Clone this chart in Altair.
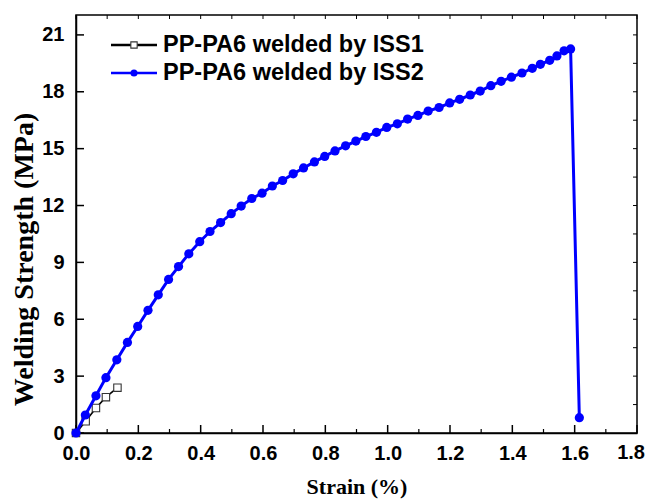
import altair as alt
import pandas as pd

# ---- data ----
series_names = ["PP-PA6 welded by ISS1", "PP-PA6 welded by ISS2"]

strain_iss1 = [0.0, 0.031, 0.064, 0.096, 0.133]
strength_iss1 = [0.0, 0.62, 1.32, 1.89, 2.39]

strain_iss2 = [0.0, 0.030, 0.064, 0.096, 0.131, 0.165, 0.198, 0.231, 0.264, 0.297,
               0.329, 0.362, 0.397, 0.430, 0.464, 0.498, 0.530, 0.564, 0.597, 0.630,
               0.663, 0.697, 0.730, 0.765, 0.798, 0.831, 0.865, 0.898, 0.930, 0.964,
               0.997, 1.031, 1.064, 1.097, 1.130, 1.165, 1.199, 1.231, 1.265, 1.297,
               1.331, 1.364, 1.397, 1.431, 1.464, 1.490, 1.520, 1.543, 1.566, 1.587,
               1.615]
strength_iss2 = [0.0, 0.95, 1.96, 2.92, 3.86, 4.78, 5.62, 6.47, 7.29, 8.10,
                 8.78, 9.45, 10.09, 10.63, 11.10, 11.57, 11.97, 12.37, 12.65, 13.03,
                 13.32, 13.67, 13.98, 14.30, 14.59, 14.88, 15.15, 15.40, 15.64, 15.86,
                 16.12, 16.31, 16.56, 16.75, 16.98, 17.17, 17.41, 17.60, 17.83, 18.04,
                 18.32, 18.55, 18.77, 18.99, 19.24, 19.45, 19.66, 19.89, 20.16, 20.26,
                 0.81]

x_major_ticks = [0.0, 0.2, 0.4, 0.6, 0.8, 1.0, 1.2, 1.4, 1.6, 1.8]
x_minor_ticks = [0.1, 0.3, 0.5, 0.7, 0.9, 1.1, 1.3, 1.5, 1.7]
y_major_ticks = [0, 3, 6, 9, 12, 15, 18, 21]
y_right_ticks = [1.5, 3, 4.5, 6, 7.5, 9, 10.5, 12, 13.5, 15, 16.5, 18, 19.5, 21]

W, H = 561, 418
BLUE = "#0000FF"

df1 = pd.DataFrame({"strain": strain_iss1, "strength": strength_iss1,
                    "order": list(range(len(strain_iss1)))})
df2 = pd.DataFrame({"strain": strain_iss2, "strength": strength_iss2,
                    "order": list(range(len(strain_iss2)))})

xs = alt.Scale(domain=[0, 1.8], nice=False, zero=False)
ys = alt.Scale(domain=[0, 22.05], nice=False, zero=False)

LABEL_FONT = dict(font="Liberation Sans", fontWeight="bold", fontSize=20, color="black")

xaxis = alt.Axis(values=x_major_ticks[:-1], format=".1f", ticks=False, grid=False,
                 domainColor="black", domainWidth=1.5, labelFont="Liberation Sans",
                 labelFontWeight="bold", labelFontSize=20, labelColor="black",
                 labelPadding=10, labelFlush=False, title="Strain (%)",
                 titleFont="Liberation Serif", titleFontWeight="bold", titleFontSize=22,
                 titleColor="black", titlePadding=13)
yaxis = alt.Axis(values=y_major_ticks, format="d", ticks=False, grid=False,
                 domainColor="black", domainWidth=1.5, labelFont="Liberation Sans",
                 labelFontWeight="bold", labelFontSize=20, labelColor="black",
                 labelPadding=12, labelFlush=False, title="Welding Strength (MPa)",
                 titleFont="Liberation Serif", titleFontWeight="bold", titleFontSize=28,
                 titleColor="black", titlePadding=3, titleY=244)

X = lambda f: alt.X(f, type="quantitative", scale=xs, axis=xaxis)
Y = lambda f: alt.Y(f, type="quantitative", scale=ys, axis=yaxis)

line1 = alt.Chart(df1).mark_line(color="black", strokeWidth=1.6).encode(
    x=X("strain"), y=Y("strength"), order="order:Q")
pts1 = alt.Chart(df1).mark_point(shape="square", size=55, filled=False, fill="white",
                                 fillOpacity=1, stroke="#333333", strokeWidth=1.1,
                                 opacity=1).encode(x=X("strain"), y=Y("strength"))
line2 = alt.Chart(df2).mark_line(color=BLUE, strokeWidth=3).encode(
    x=X("strain"), y=Y("strength"), order="order:Q")
pts2 = alt.Chart(df2).mark_point(shape="circle", size=85, filled=True, color=BLUE,
                                 opacity=1).encode(x=X("strain"), y=Y("strength"))

# last x tick label, nudged so that it stays inside the canvas
last_lab = pd.DataFrame({"v": [x_major_ticks[-1]], "t": [f"{x_major_ticks[-1]:.1f}"]})
last_label = alt.Chart(last_lab).mark_text(align="right", baseline="top", dx=8,
                                           **LABEL_FONT).encode(
    x=X("v"), y=alt.value(H + 10), text="t:N")

# ticks (inward)
txmaj = pd.DataFrame({"v": x_major_ticks})
txmin = pd.DataFrame({"v": x_minor_ticks})
txall = pd.DataFrame({"v": sorted(x_major_ticks + x_minor_ticks)})
tymaj = pd.DataFrame({"v": y_major_ticks})
tyr = pd.DataFrame({"v": y_right_ticks})

tick_bottom_major = alt.Chart(txmaj).mark_rule(color="black", strokeWidth=1.5).encode(
    x=X("v"), y=alt.value(H), y2=alt.value(H - 8))
tick_bottom_minor = alt.Chart(txmin).mark_rule(color="black", strokeWidth=1.2).encode(
    x=X("v"), y=alt.value(H), y2=alt.value(H - 4))
tick_top = alt.Chart(txall).mark_rule(color="black", strokeWidth=1.0).encode(
    x=X("v"), y=alt.value(0), y2=alt.value(4))
tick_left = alt.Chart(tymaj).mark_rule(color="black", strokeWidth=1.5).encode(
    y=Y("v"), x=alt.value(0), x2=alt.value(8))
tick_right = alt.Chart(tyr).mark_rule(color="black", strokeWidth=1.0).encode(
    y=Y("v"), x=alt.value(W), x2=alt.value(W - 4))

# legend (drawn manually)
leg1 = pd.DataFrame({"label": [series_names[0]]})
leg2 = pd.DataFrame({"label": [series_names[1]]})
r1, r2 = 30, 58
lx0, lx1, lsym, ltxt = 35, 81, 58, 87

leg_line1 = alt.Chart(leg1).mark_rule(color="black", strokeWidth=2.4).encode(
    x=alt.value(lx0), x2=alt.value(lx1), y=alt.value(r1))
leg_pt1 = alt.Chart(leg1).mark_point(shape="square", size=40, filled=False, fill="white",
                                     fillOpacity=1, stroke="#333333", strokeWidth=1.1,
                                     opacity=1).encode(x=alt.value(lsym), y=alt.value(r1))
leg_txt1 = alt.Chart(leg1).mark_text(align="left", baseline="middle", font="Liberation Sans",
                                     fontWeight="bold", fontSize=23.5, color="black").encode(
    x=alt.value(ltxt), y=alt.value(r1), text="label:N")
leg_line2 = alt.Chart(leg2).mark_rule(color=BLUE, strokeWidth=2.4).encode(
    x=alt.value(lx0), x2=alt.value(lx1), y=alt.value(r2))
leg_pt2 = alt.Chart(leg2).mark_point(shape="circle", size=50, filled=True, color=BLUE,
                                     opacity=1).encode(x=alt.value(lsym), y=alt.value(r2))
leg_txt2 = alt.Chart(leg2).mark_text(align="left", baseline="middle", font="Liberation Sans",
                                     fontWeight="bold", fontSize=23.5, color="black").encode(
    x=alt.value(ltxt), y=alt.value(r2), text="label:N")

chart = alt.layer(
    tick_bottom_major, tick_bottom_minor, tick_top, tick_left, tick_right,
    line1, pts1, line2, pts2, last_label,
    leg_line1, leg_pt1, leg_txt1, leg_line2, leg_pt2, leg_txt2,
).properties(
    width=W, height=H,
    autosize=alt.AutoSizeParams(type="none"),
    padding={"left": 68, "top": 7, "right": 9, "bottom": 66},
    background="white",
).configure_view(stroke="black", strokeWidth=1.5)

chart.save("out.html", embed_options={"renderer": "svg", "actions": False})
